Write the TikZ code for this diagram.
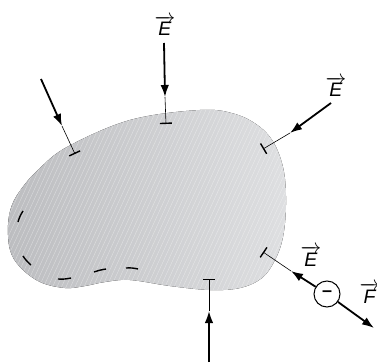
\documentclass[tikz,border=0pt]{standalone}
\usepackage{fontspec}
\setmainfont{Liberation Sans}
\usetikzlibrary{arrows.meta}
\begin{document}
\begin{tikzpicture}[x=1pt,y=-1pt,
  thickline/.style={line width=1.8pt},
  thinline/.style={line width=0.6pt},
  head/.style={-{Latex[length=12pt,width=8.5pt]}},
  tickend/.style={-{Bar[width=12pt,line width=1.4pt]}},
  vlabel/.style={font=\fontsize{19.5}{22}\selectfont, inner sep=0pt, anchor=base},
  dashmark/.style={line width=1.4pt, line cap=butt},
  hatch/.style={white, opacity=0.45, line width=0.35pt}
]
\useasboundingbox (0,0) rectangle (377,363);
\def\blobpath{plot[smooth cycle, tension=0.6] coordinates {
  (8,225) (12,205) (22,188) (38,170) (67,147) (130,120) (200,110) (235,114)
  (260,127) (275,145) (284,172) (286,205) (283,237) (275,260) (262,278)
  (240,288) (210,290) (170,286) (130,280) (105,282) (85,286) (65,288)
  (40,282) (20,267) (10,250)}}
% body
\fill[left color={rgb,255:red,188;green,189;blue,192}, right color={rgb,255:red,222;green,223;blue,225}] \blobpath;
\begin{scope}
  \clip \blobpath;
  \foreach \i in {-120,-115.5,...,300} \draw[hatch] (\i,300) -- (\i+92,100);
\end{scope}
% dashed marks inside lower-left border
\draw[dashmark] (23,211) to[bend right=8] (18,222);
\draw[dashmark] (23,256) to[bend right=8] (31,265);
\draw[dashmark] (58,279) to[bend right=8] (71,278);
\draw[dashmark] (94,272) to[bend left=5] (106,269);
\draw[dashmark] (126,268) to[bend left=8] (138,269);
% points
\coordinate (s1) at (41,79);   \coordinate (h1) at (62,126);  \coordinate (t1) at (75,154);
\coordinate (s2) at (164,43);  \coordinate (h2) at (165,97);  \coordinate (t2) at (166,124);
\coordinate (s3) at (331,103); \coordinate (h3) at (290,133); \coordinate (t3) at (263,149);
\coordinate (h4) at (291,271); \coordinate (t4) at (263,252);
\coordinate (s5) at (209,362); \coordinate (h5) at (209,311); \coordinate (t5) at (209,279);
\coordinate (f1) at (374,328);
% field arrows
\draw[thickline, head] (s1) -- (h1);
\draw[thinline, tickend] (h1) -- (t1);
\draw[thickline, head] (s2) -- (h2);
\draw[thinline, tickend] (h2) -- (t2);
\draw[thickline, head] (s3) -- (h3);
\draw[thinline, tickend] (h3) -- (t3);
\draw[thickline, head] (s5) -- (h5);
\draw[thinline, tickend] (h5) -- (t5);
% charge
\node[draw, circle, line width=1pt, minimum size=26pt, inner sep=0pt,
  font=\fontsize{18}{20}\selectfont\bfseries, text height=0.51em, text depth=0pt] (q) at (327,294) {–};
\draw[thickline, head] (q) -- (h4);
\draw[thinline, tickend] (h4) -- (t4);
\draw[thickline, head] (q) -- (f1);
% labels
\node[vlabel] (E1) at (165,36) {$\overrightarrow{\mbox{\textit{E}}}$};
\node[vlabel] (E2) at (336,97) {$\overrightarrow{\mbox{\textit{E}}}$};
\node[vlabel] (E3) at (311,266) {$\overrightarrow{\mbox{\textit{E}}}$};
\node[vlabel] (F) at (370,303) {$\overrightarrow{\mbox{\textit{F}}}$};
\end{tikzpicture}
\end{document}
